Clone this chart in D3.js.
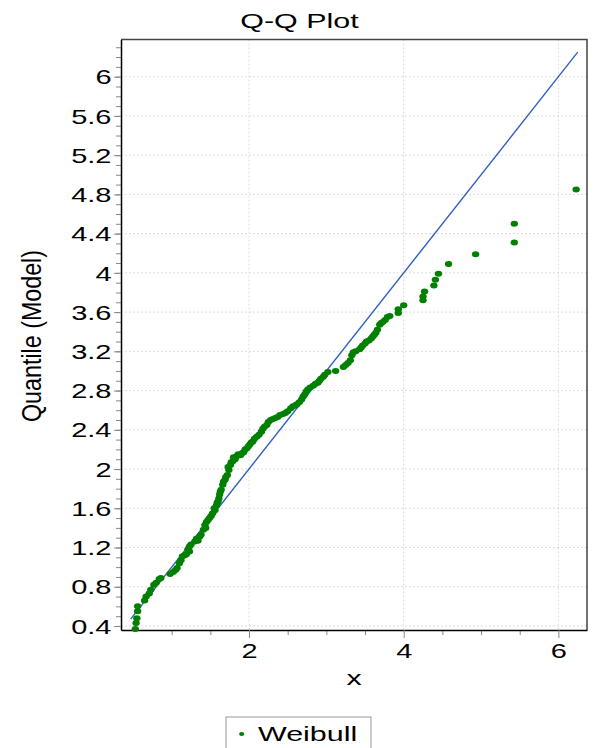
<!DOCTYPE html>
<html>
<head>
<meta charset="utf-8">
<script src="https://cdn.jsdelivr.net/npm/d3@7"></script>
<style>
  html, body { margin: 0; padding: 0; background: #fff; }
  svg { display: block; font-family: "Liberation Sans", Arial, sans-serif; }
</style>
</head>
<body>
<svg id="chart" width="595" height="748"></svg>
<script>
'use strict';

// sorted sample values (x) and model quantiles (y)
var sampleX = [0.53, 0.54, 0.55, 0.56, 0.56, 0.65, 0.67, 0.71, 0.73, 0.77, 0.80, 0.84, 0.86,
    0.98, 1.02, 1.05, 1.07, 1.10, 1.12, 1.14, 1.17, 1.19, 1.21, 1.23, 1.23, 1.25, 1.30, 1.32,
    1.34, 1.36, 1.38, 1.41, 1.43, 1.44, 1.45, 1.47, 1.49, 1.51, 1.53, 1.55, 1.56, 1.58, 1.59,
    1.60, 1.61, 1.62, 1.63, 1.64, 1.66, 1.67, 1.69, 1.70, 1.72, 1.73, 1.74, 1.76, 1.77, 1.79,
    1.80, 1.82, 1.84, 1.86, 1.89, 1.91, 1.93, 1.95, 1.97, 1.99, 2.01, 2.03, 2.05, 2.07, 2.10,
    2.13, 2.16, 2.18, 2.20, 2.23, 2.25, 2.28, 2.31, 2.34, 2.37, 2.40, 2.44, 2.47, 2.50, 2.54,
    2.57, 2.60, 2.62, 2.65, 2.68, 2.70, 2.72, 2.74, 2.76, 2.79, 2.83, 2.86, 2.89, 2.91, 2.93,
    2.96, 2.98, 3.02, 3.12, 3.22, 3.25, 3.28, 3.31, 3.33, 3.35, 3.38, 3.43, 3.45, 3.47, 3.50,
    3.52, 3.55, 3.58, 3.60, 3.62, 3.64, 3.66, 3.69, 3.71, 3.73, 3.76, 3.79, 3.82, 3.93, 3.93,
    4.00, 4.25, 4.25, 4.27, 4.39, 4.41, 4.45, 4.58, 4.93, 5.43, 5.43, 6.23];
var modelQ = [0.37, 0.43, 0.48, 0.55, 0.60, 0.66, 0.70, 0.73, 0.77, 0.82, 0.84, 0.88, 0.89,
    0.93, 0.95, 0.97, 0.99, 1.04, 1.07, 1.11, 1.12, 1.13, 1.18, 1.16, 1.21, 1.23, 1.26, 1.29,
    1.27, 1.31, 1.33, 1.38, 1.43, 1.40, 1.46, 1.48, 1.50, 1.52, 1.55, 1.60, 1.58, 1.63, 1.66,
    1.67, 1.70, 1.74, 1.77, 1.79, 1.84, 1.87, 1.89, 1.92, 1.94, 2.02, 1.99, 2.04, 2.07, 2.08,
    2.12, 2.10, 2.13, 2.15, 2.14, 2.16, 2.17, 2.20, 2.21, 2.23, 2.25, 2.27, 2.28, 2.31, 2.33,
    2.35, 2.38, 2.41, 2.43, 2.45, 2.48, 2.50, 2.51, 2.52, 2.53, 2.55, 2.56, 2.57, 2.59, 2.62,
    2.64, 2.65, 2.66, 2.68, 2.71, 2.74, 2.76, 2.79, 2.81, 2.83, 2.85, 2.87, 2.88, 2.90, 2.92,
    2.94, 2.96, 2.99, 3.00, 3.04, 3.06, 3.08, 3.11, 3.16, 3.19, 3.20, 3.22, 3.24, 3.26, 3.28,
    3.30, 3.31, 3.33, 3.35, 3.37, 3.39, 3.42, 3.47, 3.49, 3.50, 3.52, 3.55, 3.56, 3.59, 3.63,
    3.67, 3.72, 3.76, 3.81, 3.87, 3.93, 3.99, 4.09, 4.19, 4.31, 4.50, 4.85];

var refLine = [0.47, 6.25];   // y = x reference line, from / to
var xTicks = [2, 4, 6];
var yTicks = [0.4, 0.8, 1.2, 1.6, 2, 2.4, 2.8, 3.2, 3.6, 4, 4.4, 4.8, 5.2, 5.6, 6];
var xMinor = [1, 1.5, 2.5, 3, 3.5, 4.5, 5, 5.5];
var yMinor = d3.range(4, 64).map(function(d) { return d / 10; });
var seriesName = 'Weibull';

var svgWidth = 595,
    svgHeight = 748,
    margin = { top: 39.5, right: 8, bottom: 118, left: 121 },
    width = svgWidth - margin.left - margin.right,
    height = svgHeight - margin.top - margin.bottom,
    sx = 1.45; // picture is stretched sideways, text too

var svg = d3.select('#chart');

var xScale = d3.scaleLinear().domain([0.345, 6.37]).range([0, width]);
var yScale = d3.scaleLinear().domain([0.359, 6.379]).range([height, 0]);

var g = svg.append('g').attr('transform', 'translate(' + margin.left + ',' + margin.top + ')');

// grid
g.append('g').selectAll('line').data(yTicks).enter().append('line')
    .attr('x1', 0).attr('x2', width)
    .attr('y1', function(d) { return yScale(d); }).attr('y2', function(d) { return yScale(d); })
    .attr('stroke', '#dcdcdc').attr('stroke-dasharray', '2,2');
g.append('g').selectAll('line').data(xTicks).enter().append('line')
    .attr('y1', 0).attr('y2', height)
    .attr('x1', function(d) { return xScale(d); }).attr('x2', function(d) { return xScale(d); })
    .attr('stroke', '#dcdcdc').attr('stroke-dasharray', '2,2');

// frame top / right
g.append('path')
    .attr('d', 'M0,0H' + width + 'V' + height)
    .attr('fill', 'none').attr('stroke', '#444').attr('stroke-width', 1.5);

// minor ticks
g.append('g').call(d3.axisLeft(yScale).tickValues(yMinor).tickSize(5).tickFormat(''))
    .call(function(a) { a.select('.domain').remove(); a.selectAll('line').attr('stroke', '#888'); });
g.append('g').attr('transform', 'translate(0,' + height + ')')
    .call(d3.axisBottom(xScale).tickValues(xMinor).tickSize(5).tickFormat(''))
    .call(function(a) { a.select('.domain').remove(); a.selectAll('line').attr('stroke', '#888'); });

// major axes
var yAxis = g.append('g')
    .call(d3.axisLeft(yScale).tickValues(yTicks).tickSize(7).tickSizeOuter(0).tickFormat(d3.format('')));
yAxis.select('.domain').attr('stroke', '#000').attr('stroke-width', 1.5);
yAxis.selectAll('line').attr('stroke', '#888');
yAxis.selectAll('text')
    .attr('x', 0).attr('dy', '0.36em')
    .attr('transform', 'translate(-9.5,0) scale(' + sx + ',1)')
    .attr('font-size', 20).attr('fill', '#000').attr('font-family', null);

var xAxis = g.append('g').attr('transform', 'translate(0,' + height + ')')
    .call(d3.axisBottom(xScale).tickValues(xTicks).tickSize(8).tickSizeOuter(0).tickFormat(d3.format('')));
xAxis.select('.domain').attr('stroke', '#000').attr('stroke-width', 1.5);
xAxis.selectAll('line').attr('stroke', '#888');
xAxis.selectAll('text')
    .attr('y', 0).attr('dy', 0)
    .attr('transform', 'translate(0,28) scale(' + sx + ',1)')
    .attr('font-size', 20).attr('fill', '#000').attr('font-family', null);

// reference line
var line = d3.line()
    .x(function(d) { return xScale(d); })
    .y(function(d) { return yScale(d); });
g.append('path').attr('d', line(refLine))
    .attr('fill', 'none').attr('stroke', '#2f5fbf').attr('stroke-width', 1.4);

// points
var pts = sampleX.map(function(x, i) { return { x: x, y: modelQ[i] }; });
g.append('g').selectAll('ellipse').data(pts).enter().append('ellipse')
    .attr('cx', function(d) { return xScale(d.x); })
    .attr('cy', function(d) { return yScale(d.y); })
    .attr('rx', 3.7).attr('ry', 3)
    .attr('fill', '#008000');

// texts
function stretchedText(x, y, txt, size) {
    return svg.append('text')
        .attr('transform', 'translate(' + x + ',' + y + ') scale(' + sx + ',1)')
        .attr('text-anchor', 'middle').attr('font-size', size).attr('fill', '#000')
        .text(txt);
}
stretchedText(299.5, 27.5, 'Q-Q Plot', 21);
stretchedText(margin.left + width / 2, 685, 'x', 21);

svg.append('text')
    .attr('transform', 'translate(41,336) rotate(-90) scale(1,1.3)')
    .attr('text-anchor', 'middle').attr('font-size', 21).attr('fill', '#000')
    .attr('textLength', 172).attr('lengthAdjust', 'spacingAndGlyphs')
    .text('Quantile (Model)');

// legend
var legend = svg.append('g').attr('transform', 'translate(226,717)');
legend.append('rect').attr('width', 145).attr('height', 40)
    .attr('fill', '#fff').attr('stroke', '#999');
legend.append('ellipse').attr('cx', 15.7).attr('cy', 17).attr('rx', 2.6).attr('ry', 2.1)
    .attr('fill', '#008000');
legend.append('text')
    .attr('transform', 'translate(32,23.5) scale(' + sx + ',1)')
    .attr('font-size', 21).attr('fill', '#000')
    .text(seriesName);
</script>
</body>
</html>
